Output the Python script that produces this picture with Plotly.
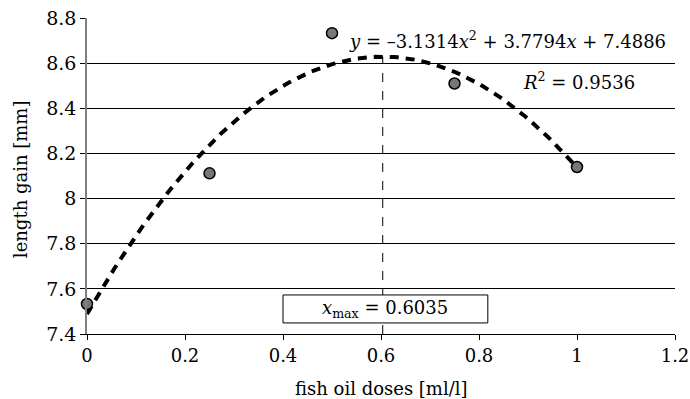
import numpy as np
import plotly.graph_objects as go

doses = [0, 0.25, 0.5, 0.75, 1.0]
gain = [7.533, 8.112, 8.733, 8.51, 8.14]
fit_coeffs = [-3.1314, 3.7794, 7.4886]  # displayed trendline equation
x_max = 0.6035
x_ticks = [0, 0.2, 0.4, 0.6, 0.8, 1.0, 1.2]
x_tick_labels = ["0", "0.2", "0.4", "0.6", "0.8", "1", "1.2"]
y_ticks = [7.4, 7.6, 7.8, 8.0, 8.2, 8.4, 8.6, 8.8]
y_tick_labels = ["7.4", "7.6", "7.8", "8", "8.2", "8.4", "8.6", "8.8"]

FONT = "DejaVu Serif"

xf = np.linspace(0, 1, 200)
yf = np.polyval(fit_coeffs, xf)
y_peak = float(np.polyval(fit_coeffs, x_max))

fig = go.Figure()
fig.add_trace(go.Scatter(x=[x_max, x_max], y=[7.4, y_peak], mode="lines",
                         line=dict(color="black", width=1, dash="dash"),
                         hoverinfo="skip", showlegend=False))
fig.add_shape(type="rect", x0=0.4, x1=0.818, y0=7.449, y1=7.573,
              xref="x", yref="y", line=dict(color="black", width=1),
              fillcolor="white", layer="above")
fig.add_trace(go.Scatter(x=xf, y=yf, mode="lines",
                         line=dict(color="black", width=4, dash="9px,7px"),
                         showlegend=False, cliponaxis=False))
fig.add_trace(go.Scatter(x=doses, y=gain, mode="markers", cliponaxis=False,
                         marker=dict(size=11, color="#777777",
                                     line=dict(color="black", width=1.5)),
                         showlegend=False))

fig.add_annotation(x=0.859, y=8.703, xref="x", yref="y", showarrow=False,
                   text="<i>y</i> = –3.1314<i>x</i><sup>2</sup> + 3.7794<i>x</i> + 7.4886",
                   font=dict(family=FONT, size=18, color="black"))
fig.add_annotation(x=1.004, y=8.52, xref="x", yref="y", showarrow=False,
                   text="<i>R</i><sup>2</sup> = 0.9536",
                   font=dict(family=FONT, size=18, color="black"))
fig.add_annotation(x=0.609, y=7.511, xref="x", yref="y", showarrow=False,
                   text="<i>x</i><sub>max</sub> = 0.6035",
                   font=dict(family=FONT, size=18, color="black"))
# axis titles
fig.add_annotation(x=-0.114, y=0.49, xref="paper", yref="paper", showarrow=False,
                   text="length gain [mm]", textangle=-90,
                   xanchor="center", yanchor="middle",
                   font=dict(family=FONT, size=18, color="black"))
fig.add_annotation(x=0.5, y=-0.171, xref="paper", yref="paper", showarrow=False,
                   text="fish oil doses [ml/l]",
                   xanchor="center", yanchor="middle",
                   font=dict(family=FONT, size=18, color="black"))

fig.update_layout(
    width=690, height=399,
    margin=dict(l=87, r=15, t=18, b=65, autoexpand=False),
    plot_bgcolor="white", paper_bgcolor="white",
    font=dict(family=FONT, size=19, color="black"),
    xaxis=dict(range=[0, 1.2], tickvals=x_ticks, ticktext=x_tick_labels,
               showgrid=False, zeroline=False, showline=True, automargin=False,
               ticklabeloverflow="allow", tickfont=dict(size=18),
               linecolor="black", linewidth=1, ticks="outside", ticklen=5,
               tickcolor="black"),
    yaxis=dict(range=[7.4, 8.8002], tickvals=y_ticks, ticktext=y_tick_labels,
               showgrid=True, gridcolor="black", gridwidth=1, automargin=False,
               ticklabeloverflow="allow",
               zeroline=False, showline=True, linecolor="#808080",
               linewidth=1.5, ticks="outside", ticklen=5, tickcolor="black"),
)

fig.write_html("out.html", config={"displayModeBar": False},
               post_script="document.body.style.margin='0';document.body.style.overflow='hidden';")
